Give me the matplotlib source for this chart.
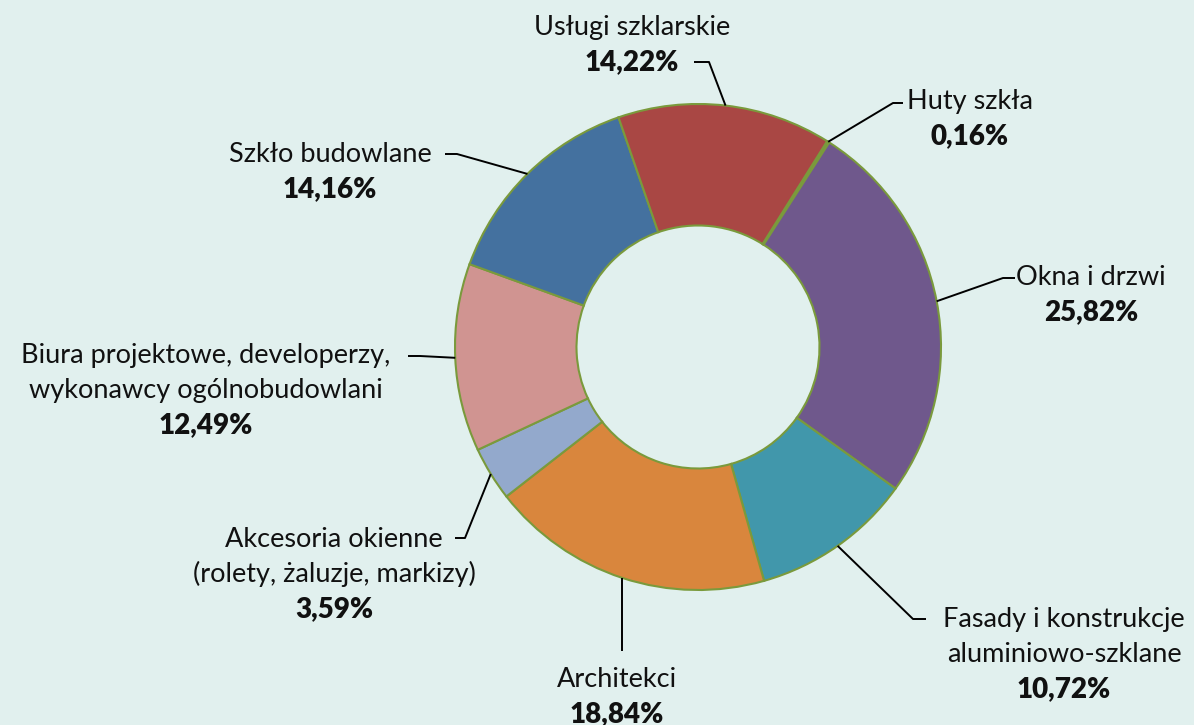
import numpy as np
from matplotlib import pyplot as plt

plt.rcParams['font.family'] = ['Lato', 'DejaVu Sans']

# dane (kolejnosc zgodnie z ruchem wskazowek zegara)
nazwy = [["Huty szkła"],
         ["Okna i drzwi"],
         ["Fasady i konstrukcje", "aluminiowo-szklane"],
         ["Architekci"],
         ["Akcesoria okienne", "(rolety, żaluzje, markizy)"],
         ["Biura projektowe, developerzy,", "wykonawcy ogólnobudowlani"],
         ["Szkło budowlane"],
         ["Usługi szklarskie"]]
udzialy = [0.16, 25.82, 10.72, 18.84, 3.59, 12.49, 14.16, 14.22]
kolory = ['#7f9c44', '#6f588c', '#4197ab', '#d9863d', '#93a9cc', '#d09491', '#44719f', '#a94744']

# polozenie etykiet (px): srodek tekstu, linia bazowa pierwszego wiersza, lamanie linii
etykiety_x = [970, 1091, 1064, 617, 334, 206, 330, 632]
etykiety_y = [109, 285, 627, 687, 547, 363, 162, 35]
lokiec = [(893, 103), (1003, 278), (913, 619), (None, 651), (465, 538), (420, 356), (457, 154), (709, 62)]
koniec = [(903, 103), (1015, 278), (926, 619), (None, 651), (455, 538), (408, 356), (445, 154), (694, 62)]

W, H = 1194, 725
cx, cy, R = 698, 347, 243
odstep = 35
tlo = '#e1f0ee'

fig = plt.figure(figsize=(W / 100, H / 100), dpi=100, facecolor=tlo)
ax = fig.add_axes([0, 0, 1, 1])
ax.set_facecolor(tlo)

wedges, _ = ax.pie(udzialy, colors=kolory, startangle=90 - 32.1, counterclock=False,
                   radius=R, center=(cx, H - cy),
                   wedgeprops=dict(width=R / 2, edgecolor='#7a9a3c', linewidth=1.5))

for i, w in enumerate(wedges):
    kat = np.radians((w.theta1 + w.theta2) / 2)
    ax_ = cx + R * np.cos(kat)
    ay_ = H - cy + R * np.sin(kat)
    ex, ey = lokiec[i]
    kx, ky = koniec[i]
    if ex is None:
        xs = [ax_, ax_]
        ys = [ay_, H - ey]
    else:
        xs = [ax_, ex, kx]
        ys = [ay_, H - ey, H - ky]
    ax.plot(xs, ys, color='black', lw=1.4, solid_capstyle='butt')

    y = etykiety_y[i]
    for linia in nazwy[i]:
        ax.text(etykiety_x[i], H - y, linia, ha='center', va='baseline', fontsize=19.5, color='#111111')
        y += odstep
    ax.text(etykiety_x[i], H - y, ("%.2f%%" % udzialy[i]).replace('.', ','),
            ha='center', va='baseline', fontsize=20, fontweight='heavy', color='#111111')

ax.set_xlim(0, W)
ax.set_ylim(0, H)
ax.set_aspect('equal')
ax.axis('off')

plt.savefig("out.png", dpi=100, facecolor=tlo)
